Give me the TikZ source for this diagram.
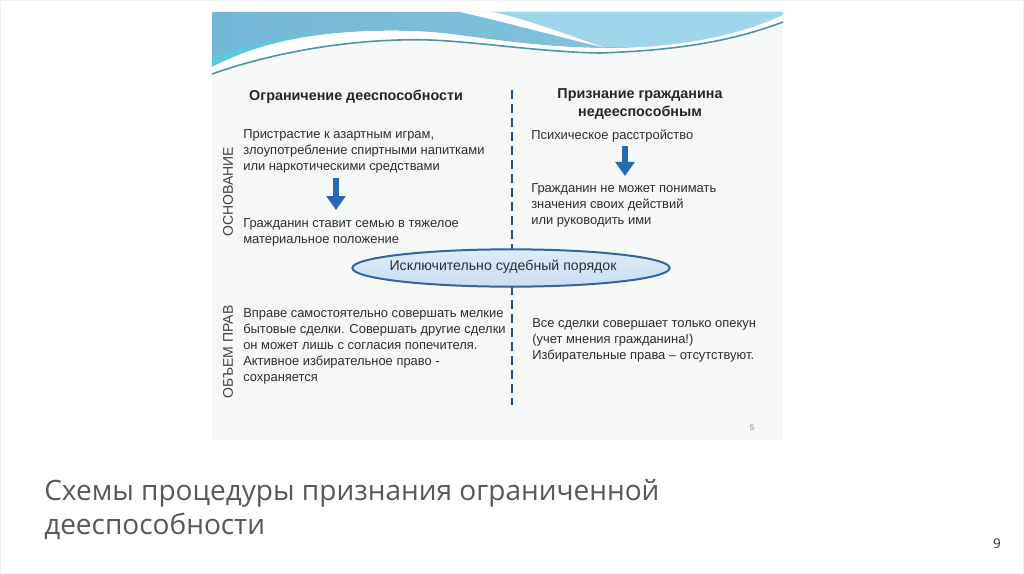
\documentclass[tikz,border=0pt]{standalone}
\usepackage{fontspec}
\setmainfont{Liberation Sans}
\newfontfamily\titlefont{Open Sans}
\usetikzlibrary{shapes.geometric,arrows.meta}
\definecolor{txt}{RGB}{45,45,45}
\definecolor{slidebg}{RGB}{246,247,247}
\definecolor{dashblue}{RGB}{40,80,125}
\definecolor{ellfill}{RGB}{200,222,243}
\definecolor{ellfilltop}{RGB}{222,236,249}
\definecolor{elldraw}{RGB}{55,100,155}
\definecolor{arrowblue}{RGB}{40,105,180}
\definecolor{wavedark}{RGB}{115,184,214}
\definecolor{wavemid}{RGB}{135,198,224}
\definecolor{wavelight}{RGB}{160,214,236}
\definecolor{wavecyan}{RGB}{92,200,222}
\definecolor{waveline}{RGB}{80,150,160}
\definecolor{titlegray}{RGB}{88,88,88}
\begin{document}
\begin{tikzpicture}[x=0.75pt,y=-0.75pt,
  body/.style={font=\fontsize{9.7}{12}\selectfont, text=txt, align=left, inner sep=0pt, anchor=north west},
  head/.style={font=\fontsize{10.75}{12.8}\selectfont\bfseries, text=black!85, align=center, inner sep=0pt},
  side/.style={font=\fontsize{10.5}{12}\selectfont, text=txt!90, rotate=90, inner sep=0pt},
  blockarrow/.style={draw=arrowblue, line width=5.2pt, -{Triangle[length=10.5pt,width=14pt]}},
  divider/.style={draw=dashblue, line width=1.5pt, dash pattern=on 7pt off 3.5pt},
  court/.style={ellipse, draw=elldraw, line width=1.5pt, top color=ellfilltop, bottom color=ellfill, minimum width=238pt, minimum height=28pt, inner sep=0pt},
  courttext/.style={inner sep=0pt, font=\fontsize{10.6}{12}\selectfont, text=txt},
  title/.style={font=\titlefont\fontsize{21}{25}\selectfont, text=titlegray, anchor=base west, inner sep=0pt}]
\useasboundingbox (0,0) rectangle (1024,574);
\fill[white] (0,0) rectangle (1024,574);
\draw[gray!12] (0.5,0.5) rectangle (1023.5,573.5);
% slide
\fill[slidebg] (212,12) rectangle (783,440);
% header wave
\shade[left color=wavedark, right color=wavemid]
  (212,12) -- (212,67) .. controls (245,50) and (280,40) .. (320,35)
  .. controls (360,30) and (410,29) .. (450,34)
  .. controls (490,39) and (540,47) .. (600,48)
  .. controls (660,49) and (730,40) .. (783,15) -- (783,12) -- cycle;
% lighter part right of the white stripe
\fill[wavelight] (490,12) .. controls (520,18) and (560,32) .. (605,47)
  .. controls (665,49) and (730,40) .. (783,15) -- (783,12) -- cycle;
% white stripe
\fill[white] (460,12) .. controls (505,22) and (555,36) .. (606,48)
  .. controls (560,32) and (522,18) .. (492,12) -- cycle;
% cyan tint at lower left
\fill[wavecyan] (212,58) -- (212,67) .. controls (245,50) and (280,40) .. (320,35)
  .. controls (280,37) and (245,46) .. cycle;
% white band under the blue
\fill[white] (212,67) .. controls (245,50) and (280,40) .. (320,35)
  .. controls (360,30) and (410,29) .. (450,34)
  .. controls (490,39) and (540,47) .. (600,48)
  .. controls (660,49) and (730,40) .. (783,15) -- (783,22)
  .. controls (740,38) and (690,50) .. (600,53)
  .. controls (540,52) and (480,42) .. (430,40)
  .. controls (360,38) and (280,50) .. (212,74) -- cycle;
\draw[waveline, line width=1.2pt] (212,74) .. controls (280,50) and (360,38) .. (430,40)
  .. controls (480,42) and (540,52) .. (600,53)
  .. controls (690,50) and (740,38) .. (783,22);
% divider and ellipse
\coordinate (dtop) at (512,90);
\coordinate (dbot) at (512,405);
\draw[divider] (dtop) -- (dbot);
\node[court] (court) at (511,268) {};
\node[courttext] (courtlabel) at (503,267) {Исключительно судебный порядок};
% headings
\node[head] (h1) at (356,97) {Ограничение дееспособности};
\node[head] (h2) at (640,104) {Признание гражданина\\недееспособным};
% side labels
\node[side] (s1) at (228,192) {ОСНОВАНИЕ};
\node[side] (s2) at (228,352) {ОБЪЕМ ПРАВ};
% left column
\node[body] (l1) at (243,129) {Пристрастие к азартным играм,\\злоупотребление спиртными напитками\\или наркотическими средствами};
\node[body] (l2) at (243,218) {Гражданин ставит семью в тяжелое\\материальное положение};
\coordinate (la1) at (336,178);
\coordinate (la2) at (336,210);
\draw[blockarrow] (la1) -- (la2);
% right column
\node[body] (r1) at (531,130) {Психическое расстройство};
\node[body] (r2) at (531,183) {Гражданин не может понимать\\значения своих действий\\или руководить ими};
\coordinate (ra1) at (625,146);
\coordinate (ra2) at (625,176);
\draw[blockarrow] (ra1) -- (ra2);
% lower
\node[body] (l3) at (243,308) {Вправе самостоятельно совершать мелкие\\бытовые сделки. Совершать другие сделки\\он может лишь с согласия попечителя.\\Активное избирательное право -\\сохраняется};
\node[body] (r3) at (532,318) {Все сделки совершает только опекун\\(учет мнения гражданина!)\\Избирательные права -- отсутствуют.};
\node[font=\fontsize{6}{7}\selectfont, text=gray, inner sep=0pt] (pn) at (752,428) {5};
% title
\node[title] (t1) at (44,500) {Схемы процедуры признания ограниченной};
\node[title] (t2) at (44,534) {дееспособности};
\node[font=\titlefont\fontsize{10}{12}\selectfont, text=txt, inner sep=0pt] (num) at (997,544) {9};
\end{tikzpicture}
\end{document}
